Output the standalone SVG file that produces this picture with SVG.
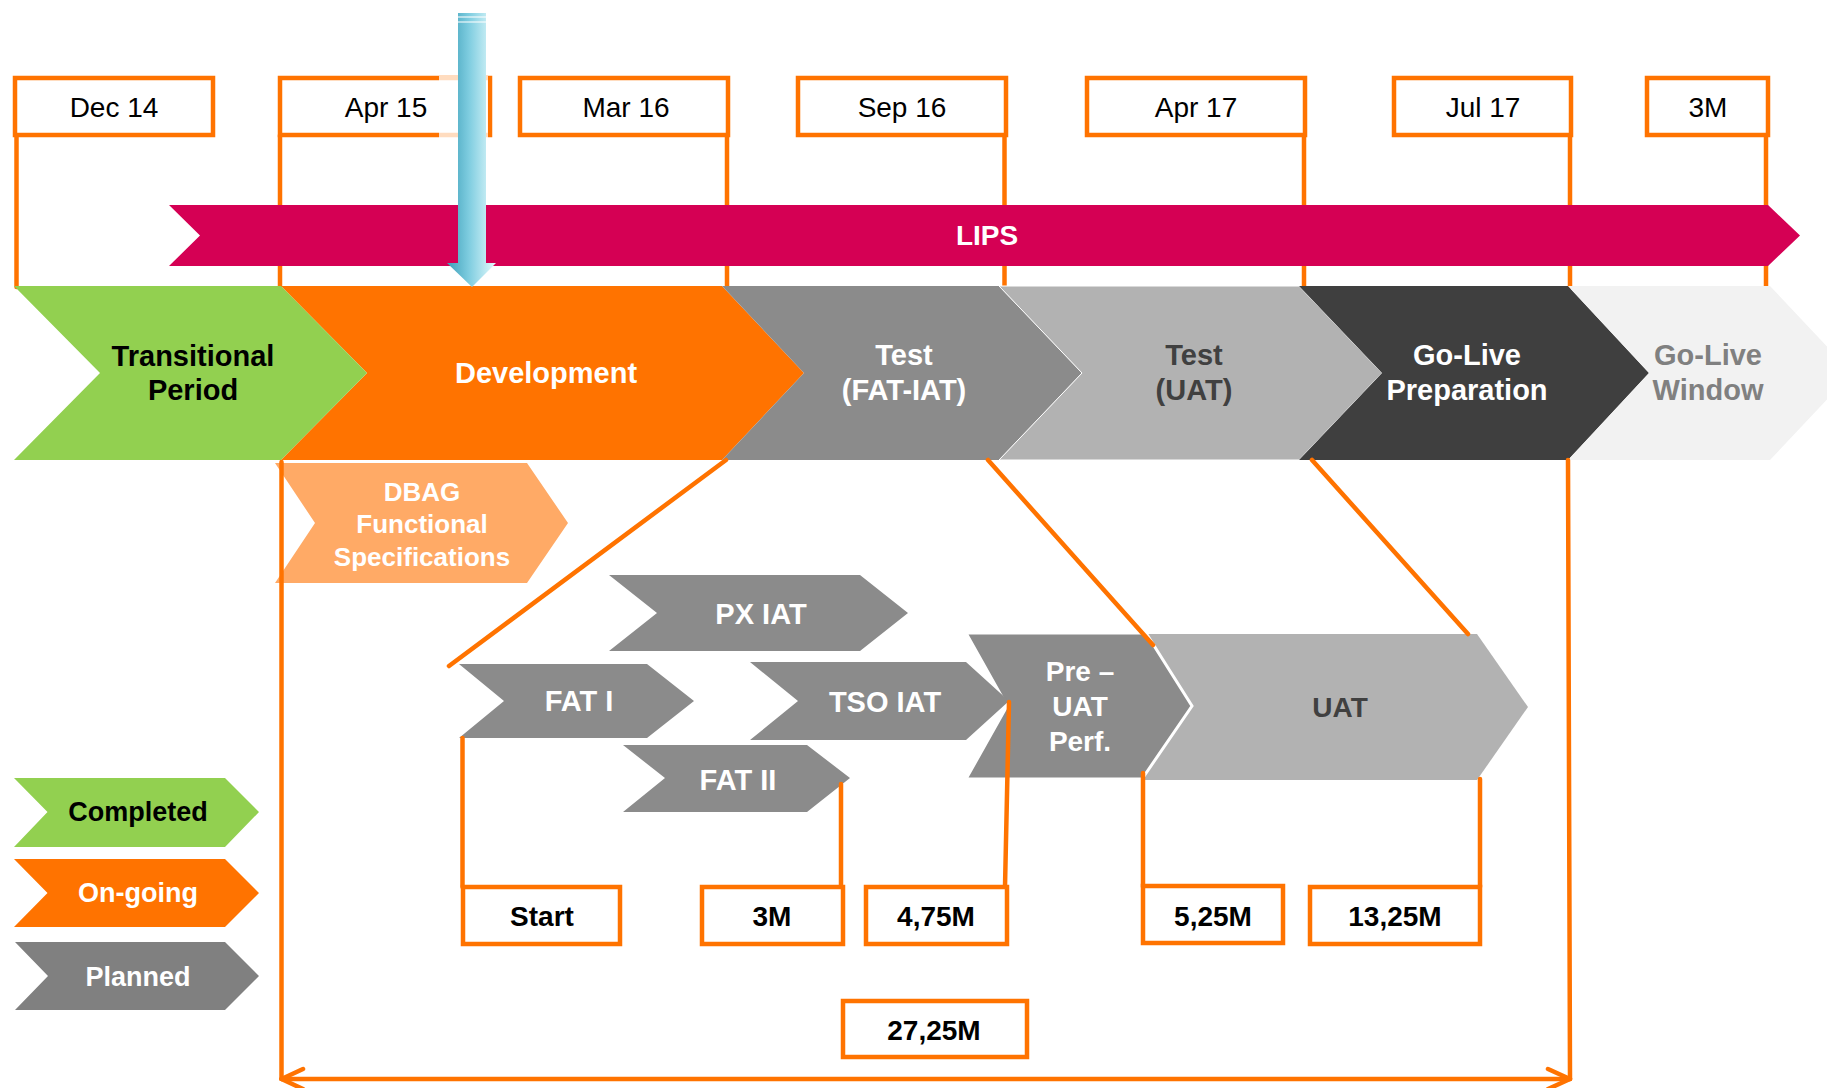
<svg xmlns="http://www.w3.org/2000/svg" width="1827" height="1088" viewBox="0 0 1827 1088">
<defs>
<style>
.t{font-family:"Liberation Sans",Arial,sans-serif;text-anchor:middle}
.b{font-weight:bold}
.date{font-size:28px;fill:#000}
.ph{font-size:29px;font-weight:bold}
.sub{font-size:29px;font-weight:bold;fill:#fff}
.num{font-size:28px;font-weight:bold;fill:#000}
.leg{font-size:27px;font-weight:bold}
.box{fill:#fff;stroke:#ff7300;stroke-width:4.5}
.ol{fill:none;stroke:#ff7300;stroke-width:4.5;stroke-linecap:round;stroke-linejoin:round}
</style>
<linearGradient id="blue" x1="0" y1="0" x2="1" y2="0">
<stop offset="0" stop-color="#3d9fb9"/>
<stop offset="0.45" stop-color="#7fcde0"/>
<stop offset="1" stop-color="#e6fbfd"/>
</linearGradient>
</defs>
<rect width="1827" height="1088" fill="#fff"/>

<g id="connectors">
<!-- date box drop lines -->
<line class="ol" x1="16.5" y1="135" x2="16.5" y2="287"/>
<line class="ol" x1="280" y1="135" x2="280" y2="287"/>
<line class="ol" x1="727" y1="135" x2="727" y2="287"/>
<line class="ol" x1="1004.5" y1="135" x2="1004.5" y2="287"/>
<line class="ol" x1="1304" y1="135" x2="1304" y2="287"/>
<line class="ol" x1="1570" y1="135" x2="1570" y2="287"/>
<line class="ol" x1="1766" y1="135" x2="1766" y2="287"/>
</g>

<g id="dates">
<rect class="box" x="15" y="78" width="198" height="57"/>
<text class="t date" x="114" y="117">Dec 14</text>
<rect class="box" x="280" y="78" width="210" height="57"/>
<text class="t date" x="386" y="117">Apr 15</text>
<rect class="box" x="520" y="78" width="208" height="57"/>
<text class="t date" x="626" y="117">Mar 16</text>
<rect class="box" x="798" y="78" width="208" height="57"/>
<text class="t date" x="902" y="117">Sep 16</text>
<rect class="box" x="1087" y="78" width="218" height="57"/>
<text class="t date" x="1196" y="117">Apr 17</text>
<rect class="box" x="1394" y="78" width="177" height="57"/>
<text class="t date" x="1483" y="117">Jul 17</text>
<rect class="box" x="1647" y="78" width="121" height="57"/>
<text class="t date" x="1708" y="117">3M</text>
</g>

<g id="lips">
<polygon points="169,205 1768,205 1800,235.5 1768,266 169,266 200,235.5" fill="#d50054"/>
<text class="t b" x="987" y="245" font-size="28" fill="#fff">LIPS</text>
</g>

<g id="phases">
<polygon id="ph-dev" points="281,286 722,286 804,373 722,460 281,460 367,373" fill="#ff7300"/>
<polygon id="ph-green" points="14,286 281,286 367,373 281,460 14,460 100,373" fill="#92d050"/>
<polygon id="ph-fat" points="722,286 999,286 1082,373 999,460 722,460 804,373" fill="#8b8b8b"/>
<polygon id="ph-uat" points="999,286 1299,286 1382,373 1299,460 999,460 1082,373" fill="#b2b2b2" stroke="#fff" stroke-width="1"/>
<polygon id="ph-prep" points="1299,286 1568,286 1649,373 1568,460 1299,460 1382,373" fill="#3f3f3f"/>
<polygon id="ph-win" points="1568,286 1770,286 1852,373 1770,460 1568,460 1649,373" fill="#f2f2f2"/>
<text class="t ph" x="193" y="366" fill="#000">Transitional</text>
<text class="t ph" x="193" y="400" fill="#000">Period</text>
<text class="t ph" x="546" y="383" fill="#fff">Development</text>
<text class="t ph" x="904" y="365" fill="#fff">Test</text>
<text class="t ph" x="904" y="400" fill="#fff">(FAT-IAT)</text>
<text class="t ph" x="1194" y="365" fill="#404040">Test</text>
<text class="t ph" x="1194" y="400" fill="#404040">(UAT)</text>
<text class="t ph" x="1467" y="365" fill="#fff">Go-Live</text>
<text class="t ph" x="1467" y="400" fill="#fff">Preparation</text>
<text class="t ph" x="1708" y="365" fill="#808080">Go-Live</text>
<text class="t ph" x="1708" y="400" fill="#808080">Window</text>
</g>

<g id="today-arrow">
<rect x="439" y="76" width="49" height="62" fill="#fff" opacity="0.75"/>
<polygon points="458,13 486,13 486,263 496,263 472,287 447,263 458,263" fill="url(#blue)"/>
<line x1="458" y1="17" x2="486" y2="17" stroke="#fff" stroke-width="1.5" opacity="0.7"/>
<line x1="458" y1="22" x2="486" y2="22" stroke="#fff" stroke-width="1.5" opacity="0.7"/>
</g>

<g id="dbag">
<polygon points="275,463 527,463 568,523 527,583 275,583 315,523" fill="#ffaa66"/>
<text class="t b" x="422" y="501" font-size="26" fill="#fff">DBAG</text>
<text class="t b" x="422" y="533" font-size="26" fill="#fff">Functional</text>
<text class="t b" x="422" y="566" font-size="26" fill="#fff">Specifications</text>
</g>

<g id="sub-uat">
<polygon points="1140,634 1477,634 1528,707 1477,780 1140,780" fill="#b2b2b2"/>
<text class="t b" x="1340" y="717" font-size="28" fill="#404040">UAT</text>
</g>
<g id="sub-preuat">
<polygon points="966,633 1146,633 1192,706 1142,779 966,779 1007,706" fill="#8b8b8b" stroke="#fff" stroke-width="3"/>
<text class="t b" x="1080" y="681" font-size="28" fill="#fff">Pre –</text>
<text class="t b" x="1080" y="716" font-size="28" fill="#fff">UAT</text>
<text class="t b" x="1080" y="751" font-size="28" fill="#fff">Perf.</text>
</g>
<g id="sub-px">
<polygon points="609,575 860,575 908,613 860,651 609,651 657,613" fill="#8b8b8b"/>
<text class="t sub" x="761" y="624">PX IAT</text>
</g>
<g id="sub-fat1">
<polygon points="459,664 647,664 694,701 647,738 459,738 504,701" fill="#8b8b8b"/>
<text class="t sub" x="579" y="711">FAT I</text>
</g>
<g id="sub-tso">
<polygon points="750,662 966,662 1009,701 966,740 750,740 798,701" fill="#8b8b8b"/>
<text class="t sub" x="885" y="712">TSO IAT</text>
</g>
<g id="sub-fat2">
<polygon points="623,745 807,745 850,778 807,812 623,812 665,778" fill="#8b8b8b"/>
<text class="t sub" x="738" y="790">FAT II</text>
</g>

<g id="connectors-2">
<line class="ol" x1="726" y1="460" x2="449" y2="666"/>
<line class="ol" x1="988" y1="460" x2="1153" y2="645"/>
<line class="ol" x1="1312" y1="460" x2="1468" y2="634"/>
<line class="ol" x1="462.5" y1="738" x2="462.5" y2="887"/>
<line class="ol" x1="841" y1="784" x2="841" y2="887"/>
<line class="ol" x1="1009" y1="702" x2="1005" y2="887"/>
<line class="ol" x1="1143" y1="773" x2="1143" y2="887"/>
<line class="ol" x1="1480" y1="779" x2="1480" y2="887"/>
<line class="ol" x1="281.5" y1="462" x2="281.5" y2="1079"/>
<line class="ol" x1="1568" y1="460" x2="1570" y2="1079"/>
<line class="ol" x1="281.5" y1="1079" x2="1570" y2="1079"/>
<polyline class="ol" points="303,1069 281.5,1079 303,1089"/>
<polyline class="ol" points="1548,1069 1570,1079 1548,1089"/>
</g>

<g id="durations">
<rect class="box" x="463" y="887" width="157" height="57"/>
<text class="t num" x="542" y="926">Start</text>
<rect class="box" x="702" y="887" width="141" height="57"/>
<text class="t num" x="772" y="926">3M</text>
<rect class="box" x="866" y="887" width="141" height="57"/>
<text class="t num" x="936" y="926">4,75M</text>
<rect class="box" x="1143" y="886" width="140" height="57"/>
<text class="t num" x="1213" y="926">5,25M</text>
<rect class="box" x="1310" y="887" width="170" height="57"/>
<text class="t num" x="1395" y="926">13,25M</text>
<rect class="box" x="843" y="1001" width="184" height="56"/>
<text class="t num" x="934" y="1040">27,25M</text>
</g>

<g id="legend">
<polygon points="14,778 225,778 259,812 225,847 14,847 47.5,812" fill="#92d050"/>
<text class="t leg" x="138" y="821" fill="#000">Completed</text>
<polygon points="14,859 225,859 259,893 225,927 14,927 47.5,893" fill="#ff7300"/>
<text class="t leg" x="138" y="902" fill="#fff">On-going</text>
<polygon points="15,942 225,942 259,976 225,1010 15,1010 48,976" fill="#808080"/>
<text class="t leg" x="138" y="986" fill="#fff">Planned</text>
</g>
</svg>
